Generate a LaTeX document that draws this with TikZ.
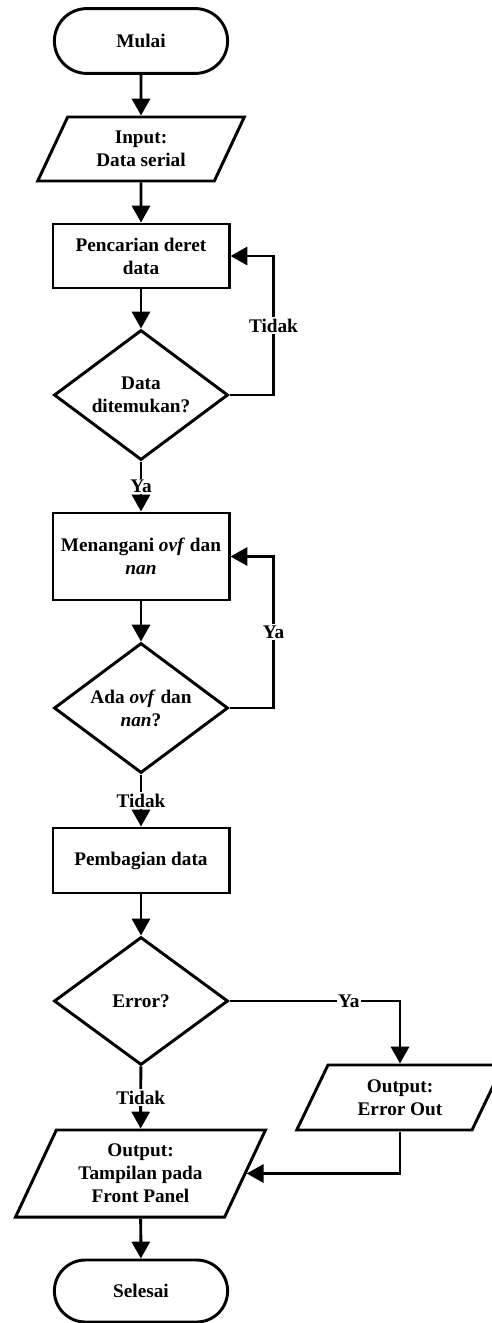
\documentclass[tikz,border=0pt]{standalone}
\usepackage{fontspec}
\setmainfont{Liberation Serif}
\usetikzlibrary{positioning}
\usetikzlibrary{shapes.geometric, shapes.misc, arrows.meta}
\tikzset{
base/.style={draw, line width=2.1pt, font=\bfseries\fontsize{13.7pt}{16.4pt}\selectfont, align=center, inner sep=0pt},
terminal/.style={base, rounded rectangle, minimum width=4.33cm, minimum height=1.62cm},
process/.style={base, rectangle, minimum width=4.4cm},
decision/.style={base, diamond, aspect=1.34, minimum width=4.35cm, minimum height=3.25cm},
inout/.style={base, trapezium, trapezium left angle=63, trapezium right angle=117, trapezium stretches=true},
flow/.style={line width=2.1pt},
flowarrow/.style={flow, -{Triangle[length=0.42cm,width=0.45cm]}},
lbl/.style={fill=white, font=\bfseries\fontsize{13.7pt}{16.4pt}\selectfont, inner sep=1pt},
}
\begin{document}
\begin{tikzpicture}[x=0.025cm,y=-0.025cm]
\useasboundingbox (0,0) rectangle (492,1323);
\node[terminal] (mulai) at (141,41) {Mulai};
\node[inout, minimum width=5.2cm, minimum height=1.6cm] (input) at (141,149) {Input:\\Data serial};
\node[process, minimum height=1.6cm] (cari) at (141,256) {Pencarian deret\\data};
\node[decision] (temu) at (141,395) {Data\\ditemukan?};
\node[process, minimum height=2.175cm] (tangani) at (141,556.5) {Menangani \textit{ovf} dan\\\textit{nan}};
\node[decision] (ovf) at (141,708) {Ada \textit{ovf} dan\\\textit{nan}?};
\node[process, minimum height=1.625cm] (bagi) at (141,860.5) {Pembagian data};
\node[decision, minimum height=3.2cm] (error) at (141,1001) {Error?};
\node[inout, minimum width=5.2cm, minimum height=1.625cm] (errout) at (400,1097.5) {Output:\\Error Out};
\node[inout, minimum width=6.25cm, minimum height=2.175cm] (front) at (140.5,1173.5) {Output:\\Tampilan pada\\Front Panel};
\node[terminal, minimum height=1.55cm] (selesai) at (141,1291) {Selesai};

\draw[flowarrow] (mulai) -- (input);
\draw[flowarrow] (input) -- (cari);
\draw[flowarrow] (cari) -- (temu);
\draw[flowarrow] (temu) -- node[lbl] {Ya} (tangani);
\draw[flowarrow] (temu.east) -- ++(44,0) |- node[lbl, pos=0.25] {Tidak} (cari.east);
\draw[flowarrow] (tangani) -- (ovf);
\draw[flowarrow] (ovf) -- node[lbl] {Tidak} (bagi);
\draw[flowarrow] (ovf.east) -- ++(44,0) |- node[lbl, pos=0.25] {Ya} (tangani.east);
\draw[flowarrow] (bagi) -- (error);
\draw[flowarrow] (error.east) -| node[lbl, pos=0.35] {Ya} (errout.center |- errout.north);
\draw[flowarrow] (error) -- node[lbl] {Tidak} (front);
\draw[flowarrow] (errout.center |- errout.south) |- (front.east);
\draw[flowarrow] (front) -- (selesai);
\end{tikzpicture}
\end{document}
